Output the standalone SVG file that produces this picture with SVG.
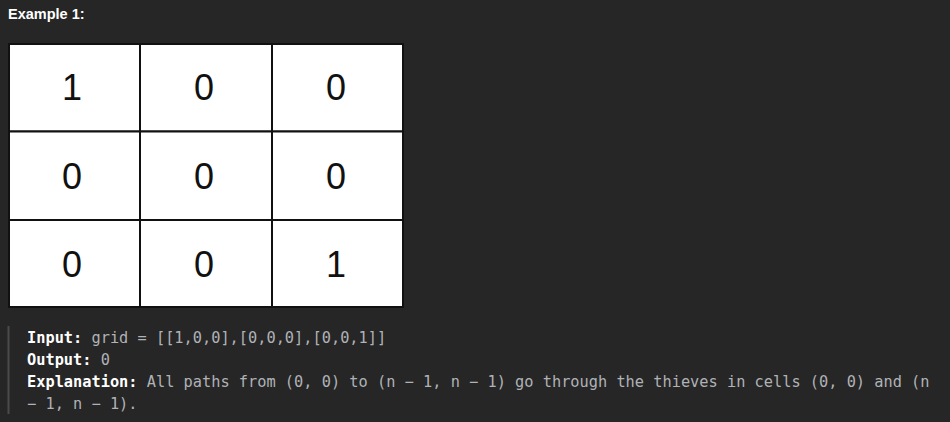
<svg xmlns="http://www.w3.org/2000/svg" width="950" height="422" viewBox="0 0 950 422">
<style>
.cell{fill:#ffffff;stroke:#111111;stroke-width:2}
.num{font-family:"Liberation Sans",Arial,sans-serif;font-size:36px;fill:#111111;text-anchor:middle}
.code{font-family:"DejaVu Sans Mono","Liberation Mono",monospace;font-size:15.3px;fill:#b0b2b6}
.b{font-weight:bold;fill:#ffffff}
</style>
<rect x="0" y="0" width="950" height="422" fill="#262626"/>
<text x="8" y="19" font-family="Liberation Sans,Arial,sans-serif" font-size="14.5" font-weight="bold" fill="#ffffff">Example 1:</text>
<g id="grid">
<g id="c00"><rect class="cell" x="9" y="44" width="131" height="87.5"/><text class="num" x="72" y="100">1</text></g>
<g id="c01"><rect class="cell" x="140" y="44" width="132" height="87.5"/><text class="num" x="204" y="100">0</text></g>
<g id="c02"><rect class="cell" x="272" y="44" width="131" height="87.5"/><text class="num" x="336" y="100">0</text></g>
<g id="c10"><rect class="cell" x="9" y="131.5" width="131" height="88.5"/><text class="num" x="72" y="188.5">0</text></g>
<g id="c11"><rect class="cell" x="140" y="131.5" width="132" height="88.5"/><text class="num" x="204" y="188.5">0</text></g>
<g id="c12"><rect class="cell" x="272" y="131.5" width="131" height="88.5"/><text class="num" x="336" y="188.5">0</text></g>
<g id="c20"><rect class="cell" x="9" y="220" width="131" height="87"/><text class="num" x="72" y="277">0</text></g>
<g id="c21"><rect class="cell" x="140" y="220" width="132" height="87"/><text class="num" x="204" y="277">0</text></g>
<g id="c22"><rect class="cell" x="272" y="220" width="131" height="87"/><text class="num" x="336" y="277">1</text></g>
</g>
<g id="connectors"></g>
<rect x="7.5" y="326" width="2" height="88" fill="#4a4a4a"/>
<text class="code" x="27" y="343"><tspan class="b">Input:</tspan> grid = [[1,0,0],[0,0,0],[0,0,1]]</text>
<text class="code" x="27" y="365"><tspan class="b">Output:</tspan> 0</text>
<text class="code" x="27" y="387"><tspan class="b">Explanation:</tspan> All paths from (0, 0) to (n − 1, n − 1) go through the thieves in cells (0, 0) and (n</text>
<text class="code" x="27" y="409">− 1, n − 1).</text>
</svg>
